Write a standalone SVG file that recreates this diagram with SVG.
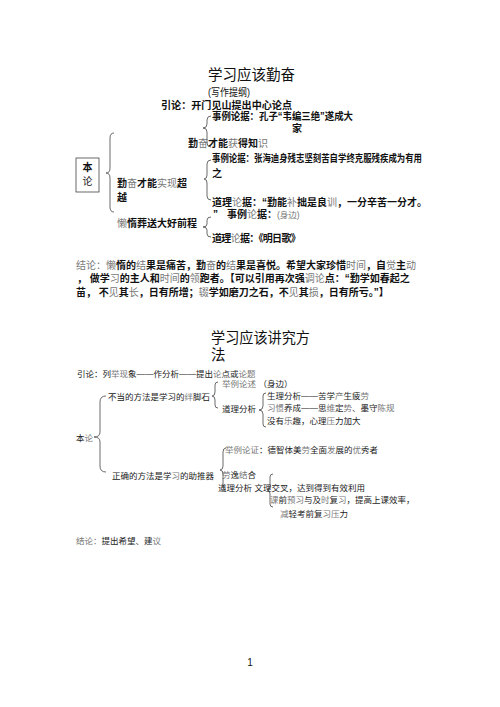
<svg xmlns="http://www.w3.org/2000/svg" width="500" height="707" viewBox="0 0 500 707">
<style>
.t{font-family:"Liberation Sans","Noto Sans CJK SC",sans-serif;font-size:10px;fill:#111}
.b{font-weight:bold}
.g{fill:#777;font-weight:normal}
.s{font-size:8.5px;fill:#222}
.h{font-size:14.5px;fill:#111}
.br{fill:none;stroke:#444;stroke-width:0.8}
</style>
<rect width="500" height="707" fill="#fff"/>
<g id="title1"><text class="t h" x="208" y="80" textLength="87" lengthAdjust="spacingAndGlyphs">学习应该勤奋</text></g>
<g id="subtitle1"><text class="t" x="208" y="96" font-size="8" fill="#444" textLength="42" lengthAdjust="spacingAndGlyphs">(写作提纲)</text></g>
<g id="intro1"><text class="t b" x="161" y="108.5" textLength="131" lengthAdjust="spacingAndGlyphs">引论：开门见山提出中心论点</text></g>
<g id="ex1"><text class="t b" x="212" y="120" textLength="141" lengthAdjust="spacingAndGlyphs">事例论据：孔子“韦编三绝”遂成大</text><text class="t b" x="292" y="132">家</text></g>
<g id="knowledge"><text class="t b" x="188" y="147" font-size="10.8">勤<tspan class="g">奋</tspan>才能<tspan class="g">获</tspan>得知<tspan class="g">识</tspan></text></g>
<g id="ex2"><text class="t b" x="212" y="162" textLength="210" lengthAdjust="spacingAndGlyphs">事例论据：张海迪身残志坚刻苦自学终克服残疾成为有用</text><text class="t b" x="212" y="177">之</text></g>
<g id="box"><rect x="76" y="158" width="23" height="34" fill="#fff" stroke="#444" stroke-width="0.8"/><text class="t b" x="87.5" y="171" text-anchor="middle">本</text><text class="t" x="87.5" y="185" text-anchor="middle" fill="#555">论</text></g>
<g id="surpass"><text class="t b" x="117" y="187" font-size="10.4">勤<tspan class="g">奋</tspan>才能<tspan class="g">实现</tspan>超</text><text class="t b" x="117" y="201" font-size="10.4">越</text></g>
<g id="reason1"><text class="t b" x="212" y="206">道理<tspan class="g">论</tspan>据：“勤能<tspan class="g">补</tspan>拙是良<tspan class="g">训</tspan>，一分辛苦一分才。</text></g>
<g id="ex3"><text class="t b" x="213" y="218">”</text><text class="t b" x="227" y="218">事例<tspan class="g">论</tspan>据：<tspan class="g" font-size="8.5">(身边)</tspan></text></g>
<g id="lazy"><text class="t b" x="117" y="227"><tspan class="g">懒</tspan>惰葬送大好前程</text></g>
<g id="reason2"><text class="t b" x="212" y="242" letter-spacing="-0.7">道理<tspan class="g">论</tspan>据：《明日歌》</text></g>
<g id="conclusion1">
<text class="t b" x="76" y="269" font-size="10.1"><tspan class="g">结论：懒</tspan>惰的<tspan class="g">结</tspan>果是痛苦，勤<tspan class="g">奋</tspan>的<tspan class="g">结</tspan>果是喜悦。希望大家珍惜<tspan class="g">时间</tspan>，自<tspan class="g">觉</tspan>主<tspan class="g">动</tspan></text>
<text class="t b" x="77" y="282" font-size="10.1">，  做学<tspan class="g">习</tspan>的主人和<tspan class="g">时间</tspan>的<tspan class="g">领</tspan>跑者。【可以引用再次强<tspan class="g">调论</tspan>点：“勤学如春起之</text>
<text class="t b" x="76" y="296" font-size="10.1">苗，  不<tspan class="g">见</tspan>其<tspan class="g">长</tspan>，日有所增；<tspan class="g">辍</tspan>学如磨刀之石，不<tspan class="g">见</tspan>其<tspan class="g">损</tspan>，日有所亏。”】</text>
</g>
<g id="title2"><text class="t h" x="211" y="343" textLength="99" lengthAdjust="spacingAndGlyphs">学习应该讲究方</text><text class="t h" x="211" y="360">法</text></g>
<g id="intro2"><text class="t s" x="77" y="377" font-size="8.6">引论：列<tspan class="g">举现</tspan>象——作分析——提出<tspan class="g">论</tspan>点或<tspan class="g">论题</tspan></text></g>
<g id="ex4"><text class="t s" x="222" y="387" font-size="9"><tspan class="g">举例论述</tspan>  （身边）</text></g>
<g id="wrong"><text class="t s" x="108" y="400" font-size="8.4">不当的方法是学习的<tspan class="g">绊</tspan>脚石</text></g>
<g id="reason3"><text class="t s" x="222" y="412" font-size="8.3">道理分析</text></g>
<g id="r3a"><text class="t s" x="267" y="399" font-size="8.4">生理分析——苦学<tspan class="g">产</tspan>生疲<tspan class="g">劳</tspan></text></g>
<g id="r3b"><text class="t s" x="267" y="411"><tspan class="g">习惯</tspan>养成——思<tspan class="g">维</tspan>定<tspan class="g">势</tspan>、墨守<tspan class="g">陈规</tspan></text></g>
<g id="r3c"><text class="t s" x="267" y="424">没有<tspan class="g">乐</tspan>趣，心理<tspan class="g">压</tspan>力加大</text></g>
<g id="body2"><text class="t s" x="76" y="441" font-size="8">本<tspan class="g">论</tspan></text></g>
<g id="ex5"><text class="t s" x="225" y="453" font-size="8.6"><tspan class="g">举例论证</tspan>：德智体美<tspan class="g">劳</tspan>全面<tspan class="g">发</tspan>展的<tspan class="g">优</tspan>秀者</text></g>
<g id="right"><text class="t s" x="112" y="479" font-size="8.3">正确的方法是学<tspan class="g">习</tspan>的助推器</text></g>
<g id="rest"><text class="t s" x="222" y="478" font-size="8.3"><tspan class="g">劳</tspan>逸<tspan class="g">结</tspan>合</text></g>
<g id="reason4"><text class="t s" x="218" y="491" textLength="147" lengthAdjust="spacingAndGlyphs">道理分析  文理交叉，达到得到有效利用</text></g>
<g id="r4a"><text class="t s" x="270" y="503" font-size="8.35"><tspan class="g">课</tspan>前<tspan class="g">预习</tspan>与及<tspan class="g">时</tspan>复<tspan class="g">习</tspan>，提高上课效率，</text></g>
<g id="r4b"><text class="t s" x="280" y="517"><tspan class="g">减</tspan>轻考前复<tspan class="g">习压</tspan>力</text></g>
<g id="conclusion2"><text class="t s" x="76" y="544" font-size="8.7"><tspan class="g">结论：</tspan>提出希望、建<tspan class="g">议</tspan></text></g>
<g id="page"><text class="t" x="250" y="666" font-size="7" text-anchor="middle" fill="#333">1</text></g>
<g id="connectors">
<path class="br" d="M211,116 Q207,116 207,120 L207,124 Q207,128 203,128 Q207,128 207,132 L207,143 Q207,147 211,147"/>
<path class="br" d="M211,160 Q207,160 207,164 L207,175 Q207,179 204,179 Q207,179 207,183 L207,196 Q207,200 211,200"/>
<path class="br" d="M211,217 Q207,217 207,220 L207,224 Q207,227 203,227 Q207,227 207,230 L207,234 Q207,237 211,237"/>
<path class="br" d="M114,133 Q110,133 110,138 L110,168 Q110,173 106,173 Q110,173 110,178 L110,207 Q110,212 114,212"/>
<path class="br" d="M218,382 Q215,382 215,385 L215,392 Q215,396 212,396 Q215,396 215,400 L215,405 Q215,408 218,408"/>
<path class="br" d="M266,393 Q263,393 263,396 L263,406 Q263,410 259,410 Q263,410 263,414 L263,424 Q263,427 266,427"/>
<path class="br" d="M106,396 Q100,396 100,402 L100,432 Q100,437 94,437 Q100,437 100,442 L100,466 Q100,472 106,472"/>
<path class="br" d="M226,448 Q223,448 223,452 L223,466 Q223,470 220,470 Q223,470 223,474 L223,486 Q223,490 226,490"/>
<path class="br" d="M273,474 Q270,474 270,477 L270,486 Q270,490 267,490 Q270,490 270,494 L270,504 Q270,507 273,507"/>
</g>
</svg>
